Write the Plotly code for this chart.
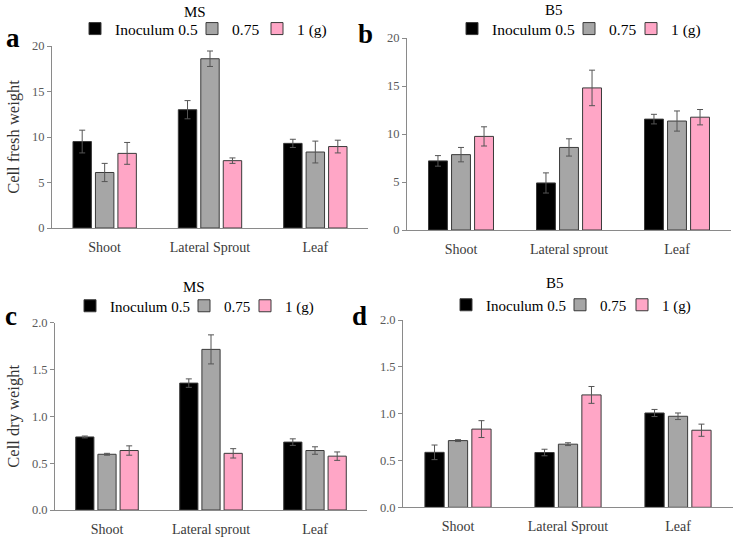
import plotly.graph_objects as go

series_names = ["Inoculum 0.5", "0.75", "1 (g)"]
colors = ["#000000", "#a6a6a6", "#ffa6c6"]

# Panel a: MS, cell fresh weight
cats_a = ["Shoot", "Lateral Sprout", "Leaf"]
a_vals = [[9.5, 13.0, 9.3], [6.1, 18.6, 8.35], [8.2, 7.4, 8.95]]
a_errs = [[1.25, 1.0, 0.45], [1.0, 0.85, 1.2], [1.2, 0.3, 0.7]]

# Panel b: B5, cell fresh weight
cats_b = ["Shoot", "Lateral sprout", "Leaf"]
b_vals = [[7.2, 4.9, 11.55], [7.85, 8.6, 11.35], [9.75, 14.8, 11.75]]
b_errs = [[0.55, 1.05, 0.5], [0.75, 0.9, 1.05], [1.0, 1.85, 0.8]]

# Panel c: MS, cell dry weight
cats_c = ["Shoot", "Lateral sprout", "Leaf"]
c_vals = [[0.78, 1.355, 0.725], [0.595, 1.715, 0.635], [0.635, 0.605, 0.575]]
c_errs = [[0.01, 0.045, 0.035], [0.01, 0.155, 0.04], [0.05, 0.05, 0.045]]

# Panel d: B5, cell dry weight
cats_d = ["Shoot", "Lateral Sprout", "Leaf"]
d_vals = [[0.587, 0.585, 1.007], [0.712, 0.674, 0.972], [0.835, 1.2, 0.823]]
d_errs = [[0.078, 0.035, 0.038], [0.01, 0.015, 0.035], [0.09, 0.09, 0.065]]

# legend entry widths (spacing of legend items per panel)
legend_widths = {"legend": [72, 20, None], "legend2": [72, 17, None],
                 "legend3": [69, 16, None], "legend4": [69, 17, None]}

panels = [
    (cats_a, a_vals, a_errs, "x", "y", "legend"),
    (cats_b, b_vals, b_errs, "x2", "y2", "legend2"),
    (cats_c, c_vals, c_errs, "x3", "y3", "legend3"),
    (cats_d, d_vals, d_errs, "x4", "y4", "legend4"),
]

FONT = "Liberation Serif"

fig = go.Figure()
for cats, vals, errs, xa, ya, lg in panels:
    for i in range(3):
        kw = {}
        if legend_widths[lg][i] is not None:
            kw["legendwidth"] = legend_widths[lg][i]
        fig.add_trace(go.Bar(
            x=cats, y=vals[i], name=series_names[i],
            xaxis=xa, yaxis=ya, legend=lg,
            marker=dict(color=colors[i], line=dict(color="#3a3a3a", width=1)),
            error_y=dict(type="data", array=errs[i], color="#555555",
                         thickness=1, width=3),
            **kw,
        ))

W, H = 738, 539
def px(x):
    return x / W
def py(y):
    return 1 - y / H

axis_common = dict(showgrid=False, zeroline=False, showline=True,
                   linecolor="#8a8a8a", linewidth=1, automargin=False)
xcommon = dict(axis_common, ticks="", ticklabelstandoff=6,
               tickfont=dict(family=FONT, size=14, color="#3a3a3a"))
ycommon = dict(axis_common, ticks="outside", ticklen=4, tickcolor="#8a8a8a",
               tickfont=dict(family=FONT, size=12.5, color="#595959"))

layout = dict(
    width=W, height=H, margin=dict(l=0, r=0, t=0, b=0, autoexpand=False),
    paper_bgcolor="white", plot_bgcolor="white",
    barmode="group", bargap=0.36, bargroupgap=0.18,
    font=dict(family=FONT, color="#000000"),
)

layout["xaxis"] = dict(xcommon, domain=[px(52), px(368)], anchor="y")
layout["yaxis"] = dict(ycommon, domain=[py(228), py(46)], anchor="x",
                       range=[0, 20], tickvals=[0, 5, 10, 15, 20],
                       title=dict(text="Cell fresh weight", standoff=8,
                                  font=dict(family=FONT, size=16.5, color="#333333")))
layout["xaxis2"] = dict(xcommon, domain=[px(407), px(731)], anchor="y2")
layout["yaxis2"] = dict(ycommon, domain=[py(230), py(38)], anchor="x2",
                        range=[0, 20], tickvals=[0, 5, 10, 15, 20])
layout["xaxis3"] = dict(xcommon, domain=[px(55), px(367)], anchor="y3")
layout["yaxis3"] = dict(ycommon, domain=[py(510), py(322.7)], anchor="x3",
                        range=[0, 2], tickvals=[0, 0.5, 1, 1.5, 2], tickformat=".1f",
                        title=dict(text="Cell dry weight", standoff=8,
                                   font=dict(family=FONT, size=16.5, color="#333333")))
layout["xaxis4"] = dict(xcommon, domain=[px(403), px(733)], anchor="y4")
layout["yaxis4"] = dict(ycommon, domain=[py(507.3), py(320)], anchor="x4",
                        range=[0, 2], tickvals=[0, 0.5, 1, 1.5, 2], tickformat=".1f")

leg_common = dict(orientation="h", xanchor="left", yanchor="middle",
                  font=dict(family=FONT, size=15.5, color="#000000"),
                  bgcolor="rgba(0,0,0,0)", itemwidth=30, traceorder="normal")
layout["legend"] = dict(leg_common, x=px(75), y=py(29))
layout["legend2"] = dict(leg_common, x=px(452), y=py(29))
layout["legend3"] = dict(leg_common, x=px(70), y=py(306))
layout["legend4"] = dict(leg_common, x=px(446), y=py(305))
layout["legend3"]["font"] = dict(family=FONT, size=15, color="#000000")
layout["legend4"]["font"] = dict(family=FONT, size=15, color="#000000")

fig.update_layout(**layout)

def ann(text, x, y, size, bold=False):
    fig.add_annotation(text=f"<b>{text}</b>" if bold else text,
                       x=px(x), y=py(y), xref="paper", yref="paper",
                       showarrow=False, xanchor="center", yanchor="middle",
                       font=dict(family=FONT, size=size, color="#000000"))

ann("a", 13, 38, 27, bold=True)
ann("b", 365, 34, 27, bold=True)
ann("c", 11, 316, 27, bold=True)
ann("d", 359, 316, 27, bold=True)
ann("MS", 195, 12, 15)
ann("B5", 554, 10, 15)
ann("MS", 194, 287, 15)
ann("B5", 555, 283, 15)

fig.write_html("out.html", config={"displayModeBar": False},
               post_script="document.body.style.margin='0px';")
